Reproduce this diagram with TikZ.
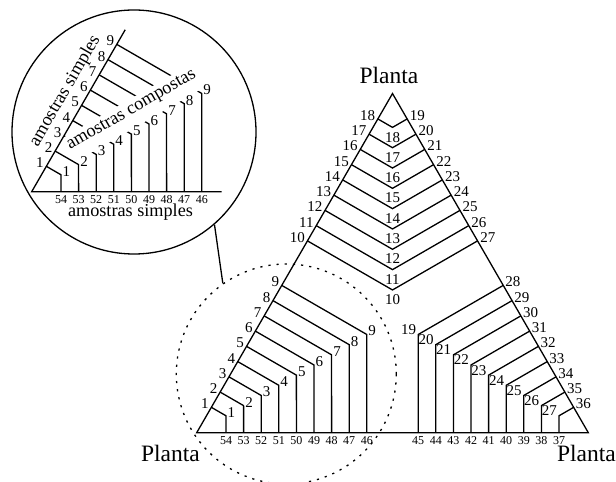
\documentclass[tikz,border=0pt]{standalone}
\usepackage{fontspec}
\setmainfont{Liberation Serif}
\usetikzlibrary{calc}
\tikzset{
  trline/.style={draw=black, line width=1.3pt},
  trnum/.style={font=\fontsize{15}{15}\selectfont, inner sep=0pt},
  trbase/.style={font=\fontsize{12}{12}\selectfont, inner sep=0pt, anchor=north, yshift=-4pt},
  trplanta/.style={font=\fontsize{23.5}{23.5}\selectfont, inner sep=0pt},
  tramostra/.style={font=\fontsize{18.2}{18.2}\selectfont, inner sep=0pt},
  trzona/.style={circle, draw=black, line width=1.3pt, dash pattern=on 2.2pt off 6pt,
                 minimum size=220pt, inner sep=0pt},
  trlupa/.style={circle, draw=black, line width=1.3pt, minimum size=244pt, inner sep=0pt},
}
\newcommand{\trFirst}{29.3}
\newcommand{\trStep}{17.6}

\begin{document}
\begin{tikzpicture}[x=1pt, y=1pt]
  \useasboundingbox (0,0) rectangle (616,482);
  \coordinate (A) at (196.7,49.3);
  \coordinate (B) at (588.3,49.3);
  \coordinate (C) at ($(A)+(60:391.6)$);
  \coordinate (M) at (31.7,290.3);
  % zoomed region and magnifier
  \node[trzona] (zona) at (286.3,108) {};
  \node[trlupa] (lupa) at (134,350) {};
  \draw[trline] (lupa.-49.4) -- (zona.125);
  \draw[trline] (A) -- (B) -- (C) -- cycle;
  \node[trplanta, anchor=base] (pC) at ($(C)+(-3.5,9.6)$) {Planta};
  \node[trplanta, anchor=base east] (pA) at ($(A)+(3.3,-29)$) {Planta};
  \node[trplanta, anchor=base east] (pB) at ($(B)+(27.7,-29)$) {Planta};
  % left corner, and its copy in the magnifier
  \foreach \vtx in {A,M}{
    \foreach \k in {1,...,9}{
      \pgfmathsetmacro{\dist}{\trFirst+\trStep*(\k-1)}
      \draw[trline] ($(\vtx)+(60:\dist)$) coordinate (\vtx e\k)
        -- ($(\vtx)+(30:{\dist/cos(30)})$) coordinate (\vtx c\k)
        -- ($(\vtx)+(0:\dist)$) coordinate (\vtx b\k);
    }
  }
  \node[tramostra, fill=white, rotate=30, anchor=base west, inner xsep=1pt,
        text height=14pt, text depth=13pt] (comp) at ($(M)+(30:53)+(120:17)$) {amostras compostas};
  \foreach \vtx in {A,M}{
    \foreach \k in {1,...,9}{
      \pgfmathtruncatemacro{\lab}{55-\k}
      \node[trnum, anchor=base east, xshift=-2.5pt, yshift=-1.5pt] (\vtx ne\k) at (\vtx e\k) {\k};
      \node[trnum, anchor=base west, xshift=1.5pt, yshift=-1.5pt] (\vtx nc\k) at (\vtx c\k) {\k};
      \node[trbase] (\vtx nb\k) at (\vtx b\k) {\lab};
    }
  }
  \node[tramostra, rotate=60, anchor=base] (simpA) at ($(M)+(60:104)+(150:17)$) {amostras simples};
  \node[tramostra, anchor=base] (simpB) at ($(M)+(98.8,-25)$) {amostras simples};
  \draw[trline] ($(M)+(60:187)$) -- (M) -- ++(190,0);
  % top corner
  \foreach \k in {1,...,9}{
    \pgfmathsetmacro{\dist}{\trFirst+\trStep*(\k-1)}
    \pgfmathtruncatemacro{\labl}{19-\k}
    \pgfmathtruncatemacro{\labr}{18+\k}
    \draw[trline] ($(C)+(240:\dist)$) coordinate (Ce\k)
      -- ($(C)+(270:{\dist/cos(30)})$) coordinate (Cc\k)
      -- ($(C)+(300:\dist)$) coordinate (Cf\k);
    \node[trnum, anchor=base east, xshift=-2.5pt, yshift=-1.5pt] (Cne\k) at (Ce\k) {\labl};
    \node[trnum, anchor=north, yshift=-4.5pt] (Cnc\k) at (Cc\k) {\labl};
    \node[trnum, anchor=base west, xshift=2.5pt, yshift=-1.5pt] (Cnf\k) at (Cf\k) {\labr};
  }
  % right corner
  \foreach \k in {1,...,9}{
    \pgfmathsetmacro{\dist}{\trFirst+\trStep*(\k-1)}
    \pgfmathtruncatemacro{\labe}{37-\k}
    \pgfmathtruncatemacro{\labc}{28-\k}
    \pgfmathtruncatemacro{\labb}{36+\k}
    \draw[trline] ($(B)+(120:\dist)$) coordinate (Be\k)
      -- ($(B)+(150:{\dist/cos(30)})$) coordinate (Bc\k)
      -- ($(B)+(180:\dist)$) coordinate (Bb\k);
    \node[trnum, anchor=base west, xshift=2pt, yshift=-1.5pt] (Bne\k) at (Be\k) {\labe};
    \node[trnum, anchor=base east, xshift=-2pt] (Bnc\k) at (Bc\k) {\labc};
    \node[trbase] (Bnb\k) at (Bb\k) {\labb};
  }
\end{tikzpicture}
\end{document}
